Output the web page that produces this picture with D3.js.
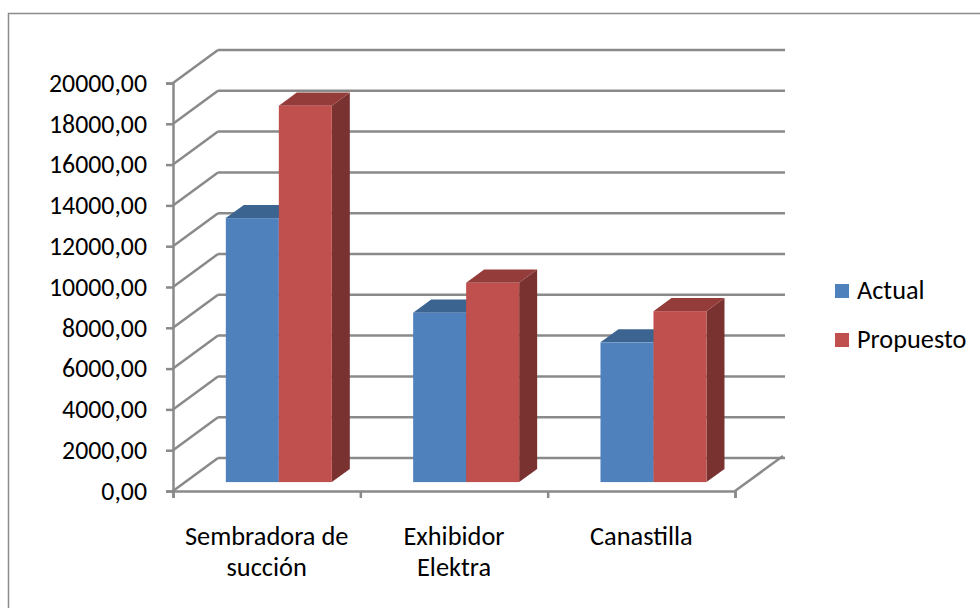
<!DOCTYPE html>
<html><head><meta charset="utf-8">
<script src="https://cdn.jsdelivr.net/npm/d3@7"></script>
<style>body{margin:0;background:#fff}svg{display:block}</style>
</head><body><svg id="c" width="980" height="608"></svg>
<script>
const categories = [["Sembradora de","succión"],["Exhibidor","Elektra"],["Canastilla"]];
const seriesNames = ["Actual","Propuesto"];
const actual = [12940, 8300, 6850];
const propuesto = [18450, 9770, 8380];
const yTicks = [0,2000,4000,6000,8000,10000,12000,14000,16000,18000,20000];

const svg = d3.select("#c");
const font = "Carlito, Lato, 'Open Sans', sans-serif";
const grid = "#8a8a8a";
const colors = {
  front: ["#4F81BD","#C0504D"],
  top: ["#3C6490","#943C3A"],
  side: ["#2F4F75","#7A3230"]
};
const DX = 45, DY = -33;
const x0 = 173, x1 = 735;
const y = d3.scaleLinear().domain([0,20000]).range([491,83]);
const xb = d3.scaleBand().domain(d3.range(categories.length)).range([x0,x1]);
const fmt = d3.formatLocale({decimal:",",thousands:"",grouping:[3],currency:["",""]}).format(".2f");

svg.append("rect").attr("x",8.5).attr("y",13.5).attr("width",1000).attr("height",620)
  .attr("fill","none").attr("stroke","#8c8c8c").attr("stroke-width",1.5);

const g = svg.append("g");
yTicks.forEach(t=>{
  const yf = y(t);
  g.append("line").attr("x1",x0+DX).attr("x2",x1+DX+5).attr("y1",yf+DY).attr("y2",yf+DY)
    .attr("stroke",grid).attr("stroke-width",2.5);
  g.append("line").attr("x1",x0).attr("y1",yf).attr("x2",x0+DX).attr("y2",yf+DY)
    .attr("stroke",grid).attr("stroke-width",2.5);
});
g.append("line").attr("x1",x1).attr("y1",y(0)).attr("x2",x1+DX+3).attr("y2",y(0)+DY-2)
  .attr("stroke",grid).attr("stroke-width",2.5);

const yAxis = d3.axisLeft(y).tickValues(yTicks).tickFormat(fmt).tickSize(7).tickPadding(19);
const ya = svg.append("g").attr("transform",`translate(${x0},0)`).call(yAxis);
ya.select(".domain").attr("stroke",grid).attr("stroke-width",2.5);
ya.selectAll(".tick line").attr("stroke",grid).attr("stroke-width",2.5);
ya.selectAll(".tick text").attr("font-family",font).attr("font-size",25.8).attr("fill","#000");

const xAxis = d3.axisBottom(d3.scaleLinear().domain([0,3]).range([x0,x1])).tickValues([0,1,2,3]).tickFormat("").tickSize(7);
const xa = svg.append("g").attr("transform",`translate(0,${y(0)})`).call(xAxis);
xa.select(".domain").attr("stroke",grid).attr("stroke-width",2.5);
xa.selectAll(".tick line").attr("stroke",grid).attr("stroke-width",2.5);

const f1 = 0.27, f2 = 0.67;
const bw = 53;
const data = [actual, propuesto];
categories.forEach((c,i)=>{
  const cx = xb(i) + xb.bandwidth()/2 + f1*DX;
  [0,1].forEach(s=>{
    const v = data[s][i];
    const xl = cx + (s-1)*bw, xr = xl + bw;
    const yt = y(v) + f1*DY, yb = y(0) + f1*DY;
    const ddx = (f2-f1)*DX, ddy = (f2-f1)*DY;
    g.append("polygon").attr("points",[[xr,yt],[xr+ddx,yt+ddy],[xr+ddx,yb+ddy],[xr,yb]].join(" "))
      .attr("fill",colors.side[s]);
    g.append("polygon").attr("points",[[xl,yt],[xr,yt],[xr+ddx,yt+ddy],[xl+ddx,yt+ddy]].join(" "))
      .attr("fill",colors.top[s]);
    g.append("rect").attr("x",xl).attr("y",yt).attr("width",bw).attr("height",yb-yt)
      .attr("fill",colors.front[s]);
  });
  const t = svg.append("text").attr("x",xb(i)+xb.bandwidth()/2).attr("y",545)
    .attr("text-anchor","middle").attr("font-family",font).attr("font-size",26.4).attr("fill","#000");
  c.forEach((line,k)=>t.append("tspan").attr("x",xb(i)+xb.bandwidth()/2).attr("dy",k?31:0).text(line));
});

const leg = svg.append("g");
seriesNames.forEach((n,s)=>{
  const ly = 291 + s*49;
  leg.append("rect").attr("x",835).attr("y",ly-7).attr("width",14).attr("height",14).attr("fill",colors.front[s]);
  leg.append("text").attr("x",857).attr("y",ly+8).attr("font-family",font).attr("font-size",26.3).attr("fill","#000").text(n);
});
</script></body></html>
